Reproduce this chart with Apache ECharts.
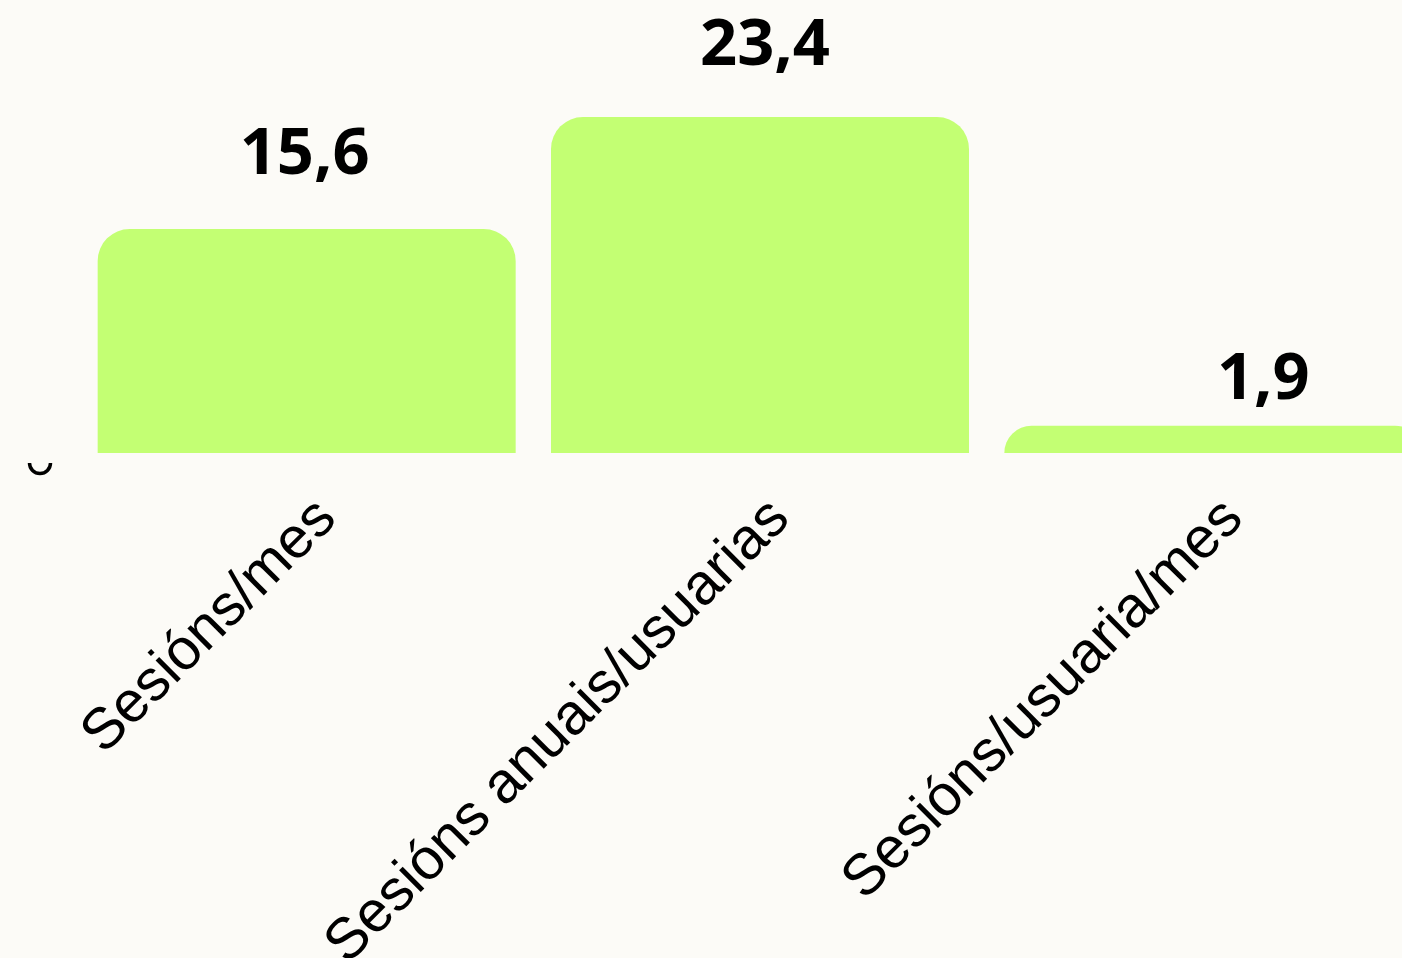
<!DOCTYPE html>
<html>
<head>
<meta charset="utf-8">
<script src="https://cdn.jsdelivr.net/npm/echarts@6/dist/echarts.min.js"></script>
<style>
  html, body { margin: 0; padding: 0; background: #fcfbf7; overflow: hidden; }
  #chart { width: 1402px; height: 958px; }
</style>
</head>
<body>
<div id="chart"></div>
<script>
const categories = ['Sesións/mes', 'Sesións anuais/usuarias', 'Sesións/usuaria/mes'];
const values = [15.6, 23.4, 1.9];
const valueLabels = ['15,6', '23,4', '1,9'];

const labelOffsets = [[-2, -40.5], [5, -37.5], [50, -12.5]];

const chart = echarts.init(document.getElementById('chart'), null, { renderer: 'canvas' });
chart.setOption({
  backgroundColor: '#fcfbf7',
  animation: false,
  grid: { left: 80, right: -38, top: 94, bottom: 505, outerBoundsMode: 'none', containLabel: false },
  xAxis: {
    type: 'category',
    data: categories,
    axisLine: { show: false },
    axisTick: { show: false },
    axisLabel: {
      rotate: 45,
      interval: 0,
      margin: 36,
      verticalAlign: 'top',
      color: '#000000',
      fontFamily: 'Liberation Sans',
      fontSize: 58
    }
  },
  yAxis: {
    type: 'value',
    min: 0,
    max: 25,
    show: false
  },
  series: [{
    type: 'bar',
    barWidth: 418,
    itemStyle: { color: '#c3ff73', borderRadius: [32, 32, 0, 0] },
    data: values.map((v, i) => ({
      value: v,
      label: {
        show: true,
        position: 'top',
        distance: 0,
        offset: labelOffsets[i],
        formatter: valueLabels[i],
        color: '#000000',
        fontFamily: 'Noto Sans',
        fontWeight: 'bold',
        fontSize: 65
      }
    }))
  }],
  graphic: [{
    type: 'arc',
    shape: { cx: 40, cy: 463, r: 10.5, startAngle: 0, endAngle: Math.PI },
    style: { stroke: '#000000', lineWidth: 3.5, fill: null }
  }]
});
</script>
</body>
</html>
